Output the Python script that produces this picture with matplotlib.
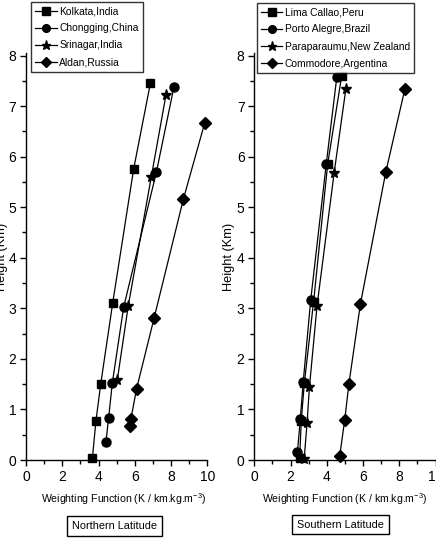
import matplotlib
matplotlib.use("Agg")
import matplotlib.pyplot as plt
from matplotlib.ticker import MultipleLocator

plt.rcParams['font.family'] = ['Liberation Sans', 'DejaVu Sans']
plt.rcParams['mathtext.fontset'] = 'custom'
plt.rcParams['mathtext.rm'] = 'Liberation Sans'

# Northern latitude stations
kolkata_x = [3.66, 3.86, 4.12, 4.78, 5.94, 6.86]
kolkata_y = [0.03, 0.78, 1.50, 3.10, 5.76, 7.45]
chongqing_x = [4.41, 4.56, 4.76, 5.39, 7.19, 8.16]
chongqing_y = [0.36, 0.84, 1.52, 3.03, 5.69, 7.38]
srinagar_x = [5.04, 5.64, 6.91, 7.72]
srinagar_y = [1.59, 3.05, 5.60, 7.22]
aldan_x = [5.75, 5.79, 6.10, 7.06, 8.68, 9.86]
aldan_y = [0.67, 0.82, 1.41, 2.80, 5.16, 6.67]

# Southern latitude stations
lima_x = [2.50, 2.59, 2.76, 3.27, 4.05, 4.82]
lima_y = [0.03, 0.78, 1.52, 3.13, 5.86, 7.60]
porto_x = [2.38, 2.54, 2.70, 3.11, 3.97, 4.55]
porto_y = [0.16, 0.82, 1.55, 3.16, 5.86, 7.57]
parap_x = [2.75, 2.91, 3.04, 3.46, 4.40, 5.05]
parap_y = [0.02, 0.73, 1.44, 3.05, 5.67, 7.34]
commodore_x = [4.71, 4.99, 5.22, 5.85, 7.25, 8.30]
commodore_y = [0.08, 0.80, 1.51, 3.08, 5.69, 7.33]

north_labels = ["Kolkata,India", "Chongging,China", "Srinagar,India", "Aldan,Russia"]
south_labels = ["Lima Callao,Peru", "Porto Alegre,Brazil", "Paraparaumu,New Zealand", "Commodore,Argentina"]
xticks = [0, 2, 4, 6, 8, 10]
yticks = [0, 1, 2, 3, 4, 5, 6, 7, 8]

W, H = 436, 538
fig = plt.figure(figsize=(W / 100, H / 100), dpi=100)

def fx(px):
    return px / W

def fy(py):
    return 1 - py / H

y_top_px = 53.0
ax1 = fig.add_axes([fx(26), fy(460), fx(207.3 - 26), (460 - y_top_px) / H])
ax2 = fig.add_axes([fx(254.3), fy(460), fx(181.3), (460 - y_top_px) / H])

markers = ['s', 'o', '*', 'D']
msizes = [6, 6.5, 8, 6]

def draw(ax, xs, ys, labels):
    for (x, y), lab, m, ms in zip(zip(xs, ys), labels, markers, msizes):
        ax.plot(x, y, color='black', lw=0.9, marker=m, ms=ms, label=lab, clip_on=False)
    ax.set_xlim(0, 10)
    ax.set_ylim(0, 8.05)
    ax.set_xticks(xticks)
    ax.set_yticks(yticks)
    ax.xaxis.set_minor_locator(MultipleLocator(1))
    ax.yaxis.set_minor_locator(MultipleLocator(0.5))
    for s in ['top', 'right']:
        ax.spines[s].set_visible(False)
    for s in ['left', 'bottom']:
        ax.spines[s].set_linewidth(1.0)
    ax.tick_params(which='major', direction='out', length=4.5, width=1, labelsize=10, pad=2.5)
    ax.tick_params(which='minor', direction='out', length=3, width=1)
    ax.patch.set_alpha(0)

draw(ax1, [kolkata_x, chongqing_x, srinagar_x, aldan_x],
     [kolkata_y, chongqing_y, srinagar_y, aldan_y], north_labels)
draw(ax2, [lima_x, porto_x, parap_x, commodore_x],
     [lima_y, porto_y, parap_y, commodore_y], south_labels)

leg_kw = dict(frameon=True, fancybox=False, edgecolor='black', fontsize=7.4,
              handlelength=2.1, handletextpad=0.25, borderpad=0.4, labelspacing=0.7,
              borderaxespad=0, markerscale=0.85)
l1 = fig.legend(*ax1.get_legend_handles_labels(), loc='upper left',
                bbox_to_anchor=(fx(31), fy(2)), **leg_kw)
l2 = fig.legend(*ax2.get_legend_handles_labels(), loc='upper left',
                bbox_to_anchor=(fx(256.7), fy(3)), **leg_kw)
for l in (l1, l2):
    l.get_frame().set_linewidth(1.0)

xlabel = 'Weighting Function (K / km.kg.m$^{\\mathregular{-3}}$)'
fig.text(fx(124), fy(499), xlabel, ha='center', va='center', fontsize=7.6)
fig.text(fx(345), fy(499), xlabel, ha='center', va='center', fontsize=7.6)

fig.text(fx(2), fy(257), 'Height (Km)', rotation=90, ha='center', va='center', fontsize=9.2)
fig.text(fx(229), fy(257), 'Height (Km)', rotation=90, ha='center', va='center', fontsize=9.2)

box = dict(boxstyle='square,pad=0.45', fc='white', ec='black', lw=1.0)
fig.text(fx(114.7), fy(526), 'Northern Latitude', ha='center', va='center', fontsize=7.8, bbox=box)
fig.text(fx(340.7), fy(524.5), 'Southern Latitude', ha='center', va='center', fontsize=7.8, bbox=box)

fig.savefig('out.png', dpi=100)
